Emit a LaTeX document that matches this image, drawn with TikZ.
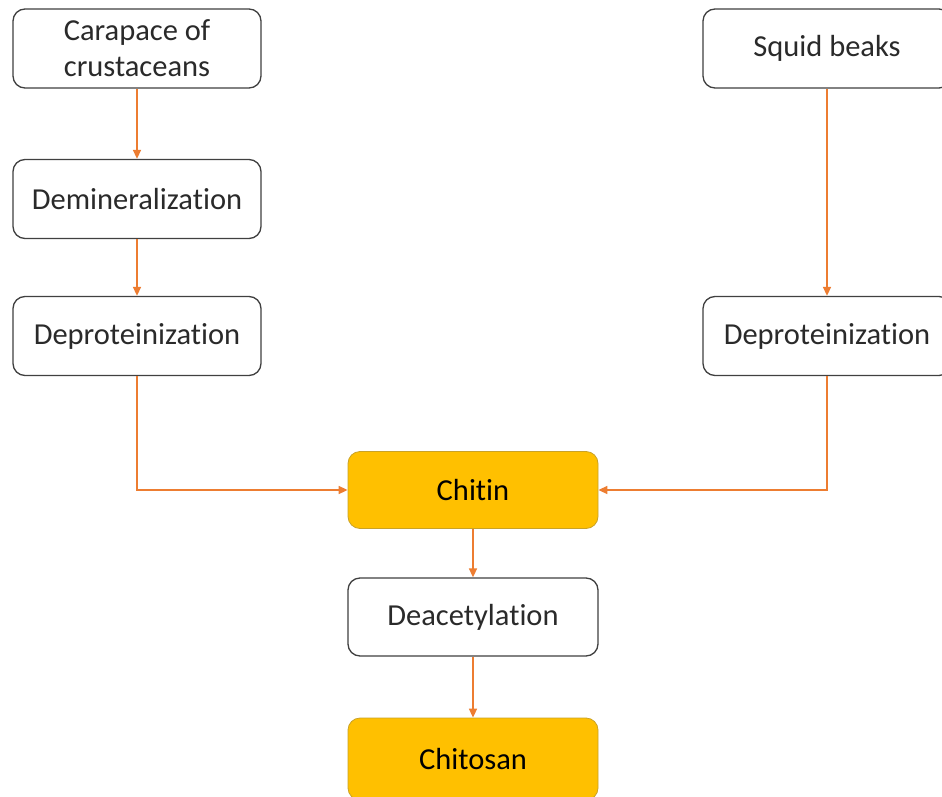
\documentclass[tikz,border=0pt]{standalone}
\usepackage{fontspec}
\setmainfont{Carlito}[Ligatures={NoCommon}]
\usetikzlibrary{arrows.meta}
\definecolor{arr}{HTML}{ED7D31}
\definecolor{gold}{HTML}{FFC000}
\definecolor{goldline}{HTML}{C9A227}
\definecolor{boxline}{HTML}{404040}
\definecolor{txt}{HTML}{2A2A2A}
\tikzset{
  wbox/.style={draw=boxline, line width=1.3pt, fill=white, rounded corners=12pt,
    minimum width=248pt, minimum height=79pt, inner sep=0pt, align=center,
    text=txt, font=\fontsize{30.5}{36}\selectfont},
  ybox/.style={wbox, draw=goldline, line width=0.8pt, fill=gold, text=black},
  conn/.style={draw=arr, line width=1.6pt, -{Triangle[length=9pt,width=8pt]}}
}
\begin{document}
\begin{tikzpicture}[x=1pt,y=-1pt]
\clip (0,0) rectangle (942,797);
\fill[white] (0,0) rectangle (942,797);
\node[wbox] (car) at (137,48.5) {Carapace of\\crustaceans};
\node[wbox] (dem) at (137,199) {Demineralization};
\node[wbox] (dpl) at (137,336) {Deproteinization};
\node[wbox] (sq) at (827,48.5) {Squid beaks};
\node[wbox] (dpr) at (827,336) {Deproteinization};
\node[ybox, minimum width=250pt, minimum height=77pt] (chi) at (473,490) {Chitin};
\node[wbox, minimum width=250pt, minimum height=78pt] (dea) at (473,617) {Deacetylation};
\node[ybox, minimum width=250pt, minimum height=82pt] (cho) at (473,759) {Chitosan};
\draw[conn] (car) -- (dem);
\draw[conn] (dem) -- (dpl);
\draw[conn] (sq) -- (dpr);
\draw[conn] (dpl.south) |- (chi.west);
\draw[conn] (dpr.south) |- (chi.east);
\draw[conn] (chi) -- (dea);
\draw[conn] (dea) -- (cho);
\end{tikzpicture}
\end{document}
